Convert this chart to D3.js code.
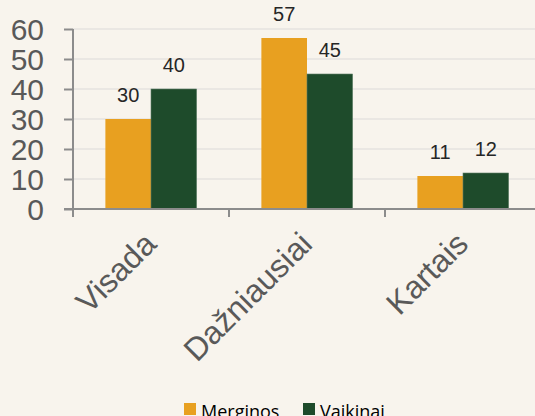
<!DOCTYPE html>
<html>
<head>
<meta charset="utf-8">
<script src="https://cdn.jsdelivr.net/npm/d3@7"></script>
<style>
  body { margin: 0; background: #f8f4ed; }
  svg { display: block; }
</style>
</head>
<body>
<svg id="chart" width="535" height="416"></svg>
<script>
// data
const categories = ["Visada", "Dažniausiai", "Kartais"];
const seriesNames = ["Merginos", "Vaikinai"];
const merginos = [30, 57, 11];
const vaikinai = [40, 45, 12];
const yTicks = [0, 10, 20, 30, 40, 50, 60];
const colors = ["#e8a020", "#1e4b2b"];

const svg = d3.select("#chart");
const W = 535, H = 416;
const mLeft = 73, mRight = 541, mTop = 29, mBottom = 209;

const x = d3.scaleBand().domain(categories).range([mLeft, mRight]);
const xs = d3.scaleBand().domain(seriesNames).range([0, x.bandwidth()]).paddingOuter(0.71).paddingInner(0);
const y = d3.scaleLinear().domain([0, 60]).range([mBottom, mTop]);

svg.append("rect").attr("width", W).attr("height", H).attr("fill", "#f8f4ed");

// gridlines
svg.append("g").selectAll("line")
  .data(yTicks.filter(d => d > 0))
  .join("line")
  .attr("x1", mLeft).attr("x2", W)
  .attr("y1", d => y(d)).attr("y2", d => y(d))
  .attr("stroke", "#e6e3df").attr("stroke-width", 1.5);

// bars
const rows = categories.map((c, i) => ({cat: c, vals: [merginos[i], vaikinai[i]]}));
const grp = svg.append("g").selectAll("g")
  .data(rows)
  .join("g")
  .attr("transform", d => `translate(${x(d.cat)},0)`);

grp.selectAll("rect")
  .data(d => d.vals.map((v, j) => ({name: seriesNames[j], v: v, j: j})))
  .join("rect")
  .attr("x", d => xs(d.name))
  .attr("width", xs.bandwidth())
  .attr("y", d => y(d.v))
  .attr("height", d => y(0) - y(d.v))
  .attr("fill", d => colors[d.j])
  .attr("stroke", d => d.j === 1 ? "#5e7d66" : "none")
  .attr("stroke-width", 0.6);

grp.selectAll("text")
  .data(d => d.vals.map((v, j) => ({name: seriesNames[j], v: v})))
  .join("text")
  .attr("x", d => xs(d.name) + xs.bandwidth() / 2)
  .attr("y", d => y(d.v) - 17)
  .attr("text-anchor", "middle")
  .attr("font-family", "Liberation Sans, Arial, sans-serif")
  .attr("font-size", 20)
  .attr("fill", "#262626")
  .text(d => d.v);

// y axis
const yAxis = svg.append("g")
  .attr("transform", `translate(${mLeft},0)`)
  .call(d3.axisLeft(y).tickValues(yTicks).tickSize(9).tickPadding(20));
yAxis.selectAll("path, line").attr("stroke", "#8c8c8c").attr("stroke-width", 2);
yAxis.select(".domain").attr("d", `M0,${mTop}V${mBottom}`);
yAxis.selectAll("text")
  .attr("font-family", "Liberation Sans, Arial, sans-serif")
  .attr("font-size", 30)
  .attr("fill", "#595959")
  .attr("dy", "0.36em");

// x axis
const xAxis = svg.append("g")
  .attr("transform", `translate(0,${mBottom})`);
xAxis.append("line")
  .attr("x1", mLeft - 9).attr("x2", W)
  .attr("stroke", "#8c8c8c").attr("stroke-width", 2);
xAxis.selectAll(".tk")
  .data(categories.concat(["end"]))
  .join("line")
  .attr("class", "tk")
  .attr("x1", (d, i) => mLeft + i * x.bandwidth())
  .attr("x2", (d, i) => mLeft + i * x.bandwidth())
  .attr("y1", 0).attr("y2", 8)
  .attr("stroke", "#8c8c8c").attr("stroke-width", 2);

xAxis.selectAll("text")
  .data(categories)
  .join("text")
  .attr("transform", d => `translate(${x(d) + x.bandwidth() / 2 + 7},${37}) rotate(-45)`)
  .attr("text-anchor", "end")
  .attr("font-family", "Liberation Sans, Arial, sans-serif")
  .attr("font-size", 32)
  .attr("fill", "#595959")
  .text(d => d);

// legend
const legend = svg.append("g").attr("transform", "translate(184,403)");
const lx = [0, 119];
seriesNames.forEach((n, i) => {
  legend.append("rect")
    .attr("x", lx[i]).attr("y", 0)
    .attr("width", 12).attr("height", 12)
    .attr("fill", colors[i]);
  legend.append("text")
    .attr("x", lx[i] + 17).attr("y", 15)
    .attr("font-family", "Open Sans, sans-serif")
    .attr("font-size", 18)
    .attr("fill", "#000")
    .text(n);
});
</script>
</body>
</html>
